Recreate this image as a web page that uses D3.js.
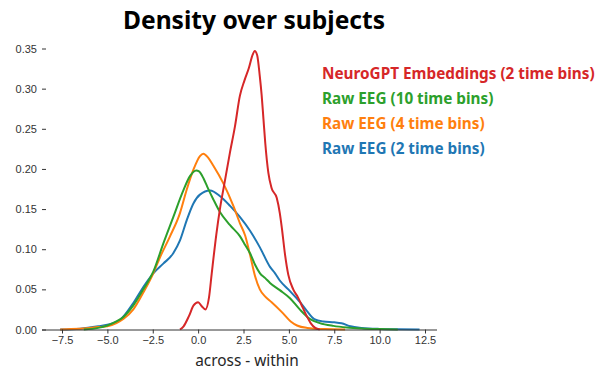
<!DOCTYPE html>
<html lang="en">
<head>
<meta charset="UTF-8">
<title>Density over subjects</title>
<script src="https://d3js.org/d3.v7.min.js"></script>
<style>
    body { margin: 0; background: #fff; }
    svg { font-family: "Noto Sans", "Open Sans", sans-serif; }
    .line { fill: none; stroke-width: 2px; stroke-linejoin: round; }
    .tick text { font-size: 11px; fill: #333; }
    .tick line { stroke: #333; }
    .title { font-size: 24.6px; font-weight: bold; fill: #000; }
    .xlabel { font-size: 15.4px; fill: #262626; }
    .legend { font-size: 15.3px; font-weight: bold; }
</style>
</head>
<body>
<div id="chart"></div>
<script>
// values (x = across - within, y = density)
var neuroX = [-1.0, -0.8, -0.5, -0.25, 0.0, 0.2, 0.4, 0.6, 0.75, 1.0, 1.2, 1.45, 1.75, 2.03, 2.3, 2.55, 2.8, 3.0, 3.12, 3.25, 3.4, 3.5, 3.6, 3.7, 3.87, 4.05, 4.33, 4.5, 4.61, 4.79, 4.97, 5.24, 5.5, 5.75, 6.0, 6.2, 6.45, 6.7];
var neuroY = [0.0, 0.004, 0.017, 0.030, 0.034, 0.029, 0.025, 0.040, 0.070, 0.118, 0.150, 0.182, 0.220, 0.253, 0.291, 0.310, 0.326, 0.342, 0.347, 0.342, 0.315, 0.292, 0.262, 0.232, 0.195, 0.176, 0.164, 0.145, 0.127, 0.093, 0.068, 0.050, 0.040, 0.028, 0.016, 0.008, 0.002, 0.0];

var eeg10X = [-6.3, -5.5, -5.0, -4.5, -4.1, -3.57, -3.02, -2.47, -1.92, -1.37, -0.82, -0.45, -0.1, 0.05, 0.3, 0.5, 0.84, 1.21, 1.76, 2.31, 2.6, 2.86, 3.13, 3.41, 3.7, 3.96, 4.5, 5.06, 5.6, 6.17, 6.7, 7.45, 8.2, 9.0, 10.0, 11.0];
var eeg10Y = [0.0, 0.002, 0.005, 0.010, 0.016, 0.030, 0.050, 0.072, 0.107, 0.140, 0.173, 0.191, 0.198, 0.197, 0.188, 0.178, 0.162, 0.146, 0.130, 0.116, 0.105, 0.095, 0.081, 0.070, 0.064, 0.058, 0.049, 0.039, 0.025, 0.013, 0.008, 0.0045, 0.0025, 0.0013, 0.0005, 0.0];

var eeg4X = [-7.6, -7.0, -6.0, -5.5, -5.0, -4.5, -4.12, -3.57, -3.02, -2.47, -2.1, -1.55, -1.0, -0.63, -0.26, 0.1, 0.29, 0.55, 0.84, 1.39, 1.94, 2.31, 2.59, 2.86, 3.13, 3.4, 3.7, 4.05, 4.6, 5.1, 5.45, 6.0, 7.0, 8.1];
var eeg4Y = [0.0, 0.0005, 0.002, 0.003, 0.004, 0.008, 0.013, 0.025, 0.046, 0.070, 0.090, 0.116, 0.145, 0.174, 0.199, 0.216, 0.219, 0.214, 0.204, 0.182, 0.154, 0.132, 0.117, 0.093, 0.067, 0.050, 0.041, 0.034, 0.022, 0.010, 0.005, 0.002, 0.0005, 0.0];

var eeg2X = [-7.6, -6.5, -5.5, -5.0, -4.3, -3.57, -3.02, -2.47, -1.92, -1.37, -1.0, -0.63, -0.26, 0.1, 0.66, 1.21, 1.76, 2.31, 2.86, 3.41, 3.96, 4.24, 4.5, 4.97, 5.42, 5.62, 6.0, 6.4, 6.9, 7.5, 7.9, 8.4, 9.0, 10.0, 11.0, 12.2];
var eeg2Y = [0.0, 0.001, 0.004, 0.006, 0.012, 0.033, 0.053, 0.070, 0.082, 0.095, 0.111, 0.136, 0.157, 0.168, 0.173, 0.166, 0.154, 0.140, 0.123, 0.102, 0.078, 0.070, 0.061, 0.050, 0.039, 0.034, 0.023, 0.013, 0.010, 0.009, 0.0078, 0.004, 0.002, 0.0007, 0.0003, 0.0];

var seriesNames = ["NeuroGPT Embeddings (2 time bins)", "Raw EEG (10 time bins)", "Raw EEG (4 time bins)", "Raw EEG (2 time bins)"];
var seriesColors = ["#d62728", "#2ca02c", "#ff7f0e", "#1f77b4"];
var xTicks = [-7.5, -5.0, -2.5, 0.0, 2.5, 5.0, 7.5, 10.0, 12.5];
var yTicks = [0.00, 0.05, 0.10, 0.15, 0.20, 0.25, 0.30, 0.35];

function init() {
    var w = 597;
    var h = 371;

    var xScale = d3.scaleLinear()
        .domain([-7.5, 12.5])
        .range([62, 425]);

    var yScale = d3.scaleLinear()
        .domain([0, 0.35])
        .range([329.5, 48.5]);

    var svg = d3.select("#chart")
        .append("svg")
        .attr("width", w)
        .attr("height", h);

    var series = [
        { name: seriesNames[0], color: seriesColors[0], x: neuroX, y: neuroY },
        { name: seriesNames[1], color: seriesColors[1], x: eeg10X, y: eeg10Y },
        { name: seriesNames[2], color: seriesColors[2], x: eeg4X, y: eeg4Y },
        { name: seriesNames[3], color: seriesColors[3], x: eeg2X, y: eeg2Y }
    ];

    var line = d3.line()
        .curve(d3.curveMonotoneX)
        .x(function(d) { return xScale(d[0]); })
        .y(function(d) { return yScale(d[1]); });

    // draw blue first so red ends on top, like the reference
    series.slice().reverse().forEach(function(s) {
        svg.append("path")
            .datum(d3.zip(s.x, s.y))
            .attr("class", "line")
            .attr("stroke", s.color)
            .attr("d", line);
    });

    var xAxis = svg.append("g")
        .attr("transform", "translate(0," + yScale(0) + ")")
        .call(d3.axisBottom(xScale)
            .tickValues(xTicks)
            .tickSize(4)
            .tickPadding(3)
            .tickFormat(d3.format(".1f")));
    xAxis.select(".domain")
        .attr("d", "M42,0.5H437")
        .attr("stroke", "#333");

    var yAxis = svg.append("g")
        .attr("transform", "translate(46,0)")
        .call(d3.axisLeft(yScale)
            .tickValues(yTicks)
            .tickSize(4)
            .tickPadding(5)
            .tickFormat(d3.format(".2f")));
    yAxis.select(".domain").remove();

    svg.append("text")
        .attr("class", "title")
        .attr("x", 254)
        .attr("y", 29)
        .attr("text-anchor", "middle")
        .text("Density over subjects");

    svg.append("text")
        .attr("class", "xlabel")
        .attr("x", 247)
        .attr("y", 366)
        .attr("text-anchor", "middle")
        .text("across - within");

    var legendY = [79, 103.5, 129, 153.5];
    series.forEach(function(s, i) {
        svg.append("text")
            .attr("class", "legend")
            .attr("x", 322)
            .attr("y", legendY[i])
            .attr("fill", s.color)
            .text(s.name);
    });
}

init();
</script>
</body>
</html>
